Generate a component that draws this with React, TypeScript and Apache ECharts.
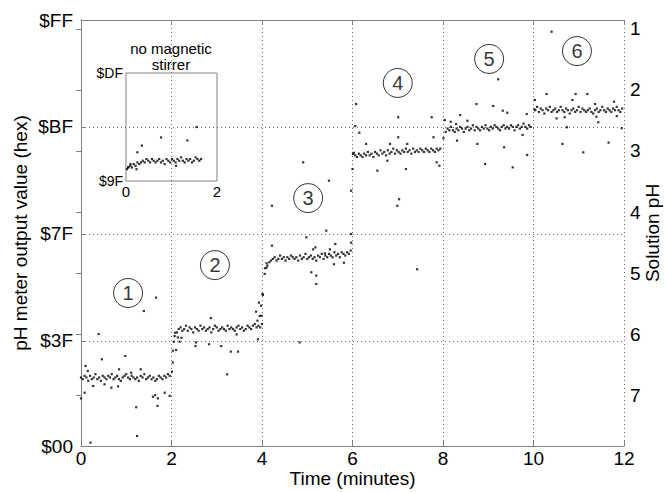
import React, { useEffect, useRef } from "react";
import * as echarts from "echarts";

// ---- axes / tick data ----
const xMin = 0;
const xMax = 12;
const xInterval = 2;
const hexTickValues = [0, 63, 127, 191, 255];
const hexTickLabels = ["$00", "$3F", "$7F", "$BF", "$FF"];
const phTop = 0.8525;
const phBottom = 7.836;
const phTicks = [1, 2, 3, 4, 5, 6, 7];
const insetXMin = 0;
const insetXMax = 2;
const insetHexValues = [159, 223];
const insetHexLabels = ["$9F", "$DF"];

// ---- sampled data (minutes, hex value) ----
const sampleStep = 0.04;
const band1Start = 0.0;
const band1 = [41, 40, 42, 41, 39, 42, 40, 41, 43, 40, 41, 39, 42, 41, 40, 42, 41, 43, 40, 41, 42, 40, 39, 41, 42, 43, 41, 40, 42, 41, 40, 41, 39, 42, 41, 43, 40, 41, 42, 40, 41, 39, 40, 42, 41, 40, 42, 41, 43, 42];
const band2Start = 2.12;
const band2 = [68, 70, 71, 69, 70, 72, 69, 71, 70, 68, 71, 70, 69, 72, 70, 71, 69, 70, 71, 68, 70, 72, 71, 69, 70, 71, 70, 69, 72, 70, 71, 70, 69, 71, 72, 70, 71, 69, 70, 72, 71, 70, 72, 73, 71, 72, 71];
const band3Start = 4.12;
const band3 = [108, 110, 111, 112, 113, 111, 112, 114, 112, 113, 111, 113, 112, 114, 113, 112, 113, 111, 114, 112, 113, 115, 112, 113, 114, 112, 113, 111, 114, 113, 115, 112, 114, 113, 115, 114, 113, 116, 114, 115, 113, 116, 115, 114, 116, 115, 117];
const band4Start = 6.06;
const band4 = [174, 173, 175, 174, 173, 175, 174, 176, 174, 175, 173, 176, 175, 174, 177, 175, 176, 174, 177, 175, 176, 178, 175, 177, 176, 175, 177, 176, 178, 176, 177, 175, 178, 176, 177, 176, 178, 177, 176, 178, 177, 176, 178, 177, 176, 178, 177, 178];
const band5Start = 8.06;
const band5 = [188, 190, 189, 191, 189, 188, 190, 189, 191, 190, 188, 190, 191, 189, 190, 192, 189, 191, 190, 189, 191, 190, 192, 190, 189, 191, 190, 192, 191, 190, 189, 191, 192, 190, 191, 190, 192, 191, 189, 191, 192, 190, 191, 193, 191, 190, 192, 191];
const band6Start = 10.04;
const band6 = [201, 203, 200, 202, 201, 199, 202, 201, 203, 200, 201, 202, 200, 201, 203, 201, 200, 202, 201, 199, 201, 202, 200, 201, 203, 200, 202, 201, 200, 201, 202, 200, 199, 201, 202, 200, 201, 203, 201, 200, 202, 201, 200, 202, 201, 203, 201, 200, 202];

const outliers: number[][] = [
  [1.66, 88.8], [1.39, 80.8], [0.39, 67], [0.46, 51.9], [0.98, 53.9], [0.10, 47.9], [0.15, 44.9], [0.84, 45.9], [1.32, 45.9], [1.11, 43.9],
  [0.27, 35.9], [0.52, 36.9], [0.67, 34.9], [0.82, 35.7], [0.08, 31.9], [0.0, 28.5], [1.22, 23.2], [1.59, 29.5], [1.64, 30.5], [1.70, 28.5],
  [1.69, 24], [1.85, 31.9], [1.96, 30], [1.24, 6], [0.21, 2],
  [2.01, 44.5], [2.03, 50], [2.03, 57], [2.05, 62.4], [2.07, 65.8], [2.10, 57.5], [2.08, 67.8],
  [2.14, 65], [2.22, 64.8], [2.18, 62.4], [2.54, 62], [2.53, 59.8], [2.83, 60.9], [2.87, 76.6], [3.1, 59.8], [3.31, 56.5], [3.47, 56.5],
  [3.23, 42.9], [3.44, 66.8], [3.91, 63.9], [3.90, 75], [3.95, 77.8], [3.87, 80.4], [3.93, 85.8], [4.02, 90.4], [4.06, 103], [4.10, 106.7],
  [4.10, 109.4], [3.98, 84], [4.01, 91], [3.99, 78], [4.0, 73],
  [4.83, 62], [4.07, 106.4], [4.22, 143.8], [4.91, 169.8], [5.48, 158.8], [5.42, 128.9], [4.98, 124.9], [4.22, 119.9], [5.13, 117.7],
  [5.18, 118.9], [5.09, 104], [5.20, 102], [5.20, 97], [5.50, 117.7], [5.62, 120.9], [5.97, 121.7], [5.59, 108.8], [5.81, 109.7], [5.39, 115.3],
  [5.97, 126.9],
  [6.01, 174.8], [6.03, 175.5], [6.00, 165.8], [5.97, 152.8], [6.08, 204.7], [6.06, 191.5], [6.15, 187.5],
  [6.30, 180.8], [6.55, 164.8], [6.77, 170.8], [6.83, 180.8], [7.01, 196.8], [7.01, 184.8], [7.18, 165.8], [7.03, 147.7], [6.99, 143.8],
  [7.21, 180.8], [7.75, 196.8], [7.79, 184.8], [7.86, 169.8], [7.92, 167.8], [7.43, 105.8],
  [8.01, 184.2], [8.04, 195.1], [8.17, 194.1], [8.29, 192.7], [8.38, 198.1], [8.54, 194.7], [8.31, 182.8], [8.74, 204.7], [8.76, 180.8],
  [8.93, 168.8], [9.11, 203.5], [9.22, 219.5], [9.32, 200.7], [9.42, 199.5], [9.35, 178.8], [9.54, 166.8], [9.76, 186.2], [9.86, 174.2],
  [9.85, 198.7],
  [10.03, 207.1], [10.02, 201.5], [10.29, 210.7], [10.40, 248], [10.51, 196.1], [10.64, 180.8], [10.69, 196.8], [10.74, 190.8], [10.86, 207.1],
  [10.93, 210.7], [11.10, 175.8], [11.19, 210.7], [11.36, 204.7], [11.39, 197.1], [11.43, 193.8], [11.66, 181.6], [11.78, 206.1], [11.84, 197.5],
  [11.95, 190.2],
];

// inset: no magnetic stirrer
const insetBandStart = 0.05;
const insetBand = [167, 168, 167, 169, 168, 170, 169, 170, 171, 170, 172, 171, 170, 172, 171, 170, 171, 172, 170, 171, 169, 172, 171, 170, 172, 171, 170, 172, 171, 173, 171, 170, 172, 171, 172, 170, 171, 173, 172, 171, 172];
const insetOutliers: number[][] = [
  [1.55, 191], [1.35, 183], [0.77, 184.8], [0.35, 180], [0.25, 176], [0.23, 166], [1.10, 168], [0.05, 167.2], [0.1, 169], [0.02, 166],
];

// circled step numbers (minutes, hex value, label)
const stepLabels: [number, number, string][] = [
  [1.04, 91.6, "1"],
  [2.96, 108.3, "2"],
  [5.02, 148.4, "3"],
  [7.0, 217.3, "4"],
  [9.02, 231.7, "5"],
  [10.96, 236.4, "6"],
];

const insetTitle = "no magnetic\nstirrer";

const FONT = "'Liberation Sans', Arial, Helvetica, sans-serif";
const AXIS_GRAY = "#808080";
const GRID_GRAY = "#6a6a6a";

function bandPoints(start: number, vals: number[]) {
  return vals.map((v, i) => [start + i * sampleStep, v]);
}

export default function App() {
  const ref = useRef<HTMLDivElement>(null);

  useEffect(() => {
    if (!ref.current) return;
    const chart = echarts.init(ref.current, undefined, { renderer: "svg" });

    const mainData = [
      ...bandPoints(band1Start, band1),
      ...bandPoints(band2Start, band2),
      ...bandPoints(band3Start, band3),
      ...bandPoints(band4Start, band4),
      ...bandPoints(band5Start, band5),
      ...bandPoints(band6Start, band6),
      ...outliers,
    ];
    const insetData = [...bandPoints(insetBandStart, insetBand), ...insetOutliers];

    const tickStyle = { lineStyle: { color: AXIS_GRAY, width: 1 } };

    chart.setOption({
      animation: false,
      backgroundColor: "#ffffff",
      textStyle: { fontFamily: FONT },
      grid: [
        { left: 81, right: 41, top: 20, bottom: 46, containLabel: false, outerBoundsMode: "none" },
        {
          left: 126, top: 73, width: 91, height: 108, containLabel: false, outerBoundsMode: "none",
          show: true, borderColor: AXIS_GRAY, borderWidth: 1, backgroundColor: "transparent",
        },
      ],
      xAxis: [
        {
          gridIndex: 0, type: "value", min: xMin, max: xMax, interval: xInterval, position: "bottom",
          axisLine: { show: true, lineStyle: { color: AXIS_GRAY } },
          axisTick: { show: true, inside: true, length: 5, ...tickStyle },
          axisLabel: { fontSize: 19, color: "#000", margin: 3, fontFamily: FONT },
          splitLine: { show: true, lineStyle: { type: [1, 3], color: GRID_GRAY, width: 1 } },
          name: "Time (minutes)", nameLocation: "middle", nameGap: 23, nameMoveOverlap: false,
          nameTextStyle: { fontSize: 19, color: "#000", fontFamily: FONT },
        },
        {
          gridIndex: 0, type: "value", min: xMin, max: xMax, interval: xInterval, position: "top",
          axisLine: { show: true, lineStyle: { color: AXIS_GRAY } },
          axisTick: { show: true, inside: true, length: 5, ...tickStyle },
          axisLabel: { show: false },
          splitLine: { show: false },
        },
        {
          gridIndex: 1, type: "value", min: insetXMin, max: insetXMax, interval: insetXMax - insetXMin,
          axisLine: { show: false }, axisTick: { show: false },
          axisLabel: { fontSize: 15, color: "#000", margin: 3, fontFamily: FONT },
          splitLine: { show: false },
        },
      ],
      yAxis: [
        {
          gridIndex: 0, type: "value", min: hexTickValues[0], max: hexTickValues[hexTickValues.length - 1], position: "left",
          axisLine: { show: true, lineStyle: { color: AXIS_GRAY } },
          axisTick: { show: true, inside: true, length: 5, customValues: hexTickValues, ...tickStyle },
          axisLabel: {
            customValues: hexTickValues, fontSize: 19, color: "#000", margin: 8, fontFamily: FONT,
            formatter: (v: number) => hexTickLabels[hexTickValues.indexOf(Math.round(v))] ?? "",
          },
          splitLine: { show: true, lineStyle: { type: [1, 3], color: GRID_GRAY, width: 1 } },
          name: "pH meter output value (hex)", nameLocation: "middle", nameGap: 51, nameMoveOverlap: false,
          nameTextStyle: { fontSize: 19, color: "#000", fontFamily: FONT },
        },
        {
          gridIndex: 0, type: "value", min: phTop, max: phBottom, inverse: true, position: "right",
          axisLine: { show: true, lineStyle: { color: AXIS_GRAY } },
          axisTick: { show: true, inside: true, length: 5, customValues: phTicks, ...tickStyle },
          axisLabel: {
            customValues: phTicks, fontSize: 19, color: "#000", margin: 6, fontFamily: FONT,
            formatter: (v: number) => String(Math.round(v)),
          },
          splitLine: { show: false },
          name: "Solution pH", nameLocation: "middle", nameGap: 19, nameMoveOverlap: false,
          nameTextStyle: { fontSize: 19, color: "#000", fontFamily: FONT },
        },
        {
          gridIndex: 1, type: "value", min: insetHexValues[0], max: insetHexValues[1],
          axisLine: { show: false }, axisTick: { show: false, customValues: insetHexValues },
          axisLabel: {
            customValues: insetHexValues, fontSize: 14, color: "#000", margin: 3, fontFamily: FONT,
            formatter: (v: number) => insetHexLabels[insetHexValues.indexOf(Math.round(v))] ?? "",
          },
          splitLine: { show: false },
        },
      ],
      graphic: [
        {
          type: "text", x: 171, y: 40,
          style: { text: insetTitle, fontSize: 15, fill: "#000", fontFamily: FONT, align: "center", verticalAlign: "top", lineHeight: 16 },
        },
      ],
      series: [
        {
          type: "scatter", xAxisIndex: 0, yAxisIndex: 0, data: mainData, symbol: "rect", symbolSize: 2.2,
          itemStyle: { color: "#000" }, silent: true,
        },
        {
          type: "scatter", xAxisIndex: 2, yAxisIndex: 2, data: insetData, symbol: "rect", symbolSize: 2.2,
          itemStyle: { color: "#000" }, silent: true,
        },
        {
          type: "scatter", xAxisIndex: 0, yAxisIndex: 0,
          data: stepLabels.map((d) => ({ value: [d[0], d[1]], name: d[2] })),
          symbol: "circle", symbolSize: 29,
          itemStyle: { color: "rgba(0,0,0,0)", borderColor: "#000", borderWidth: 1 },
          label: { show: true, position: "inside", formatter: (p: any) => p.name, fontSize: 20, color: "#000", fontFamily: FONT },
          silent: true, z: 5,
        },
      ],
    });

    return () => chart.dispose();
  }, []);

  return <div ref={ref} style={{ position: "fixed", left: 0, top: 0, width: 665, height: 492, background: "#fff" }} />;
}
